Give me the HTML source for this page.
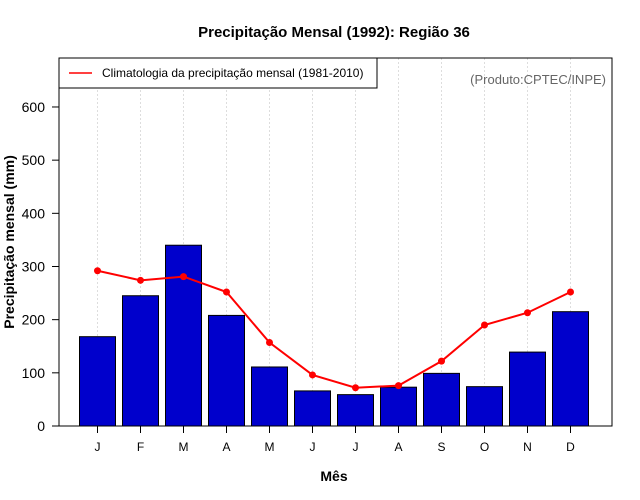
<!DOCTYPE html>
<html><head><meta charset="utf-8"><style>body{margin:0;background:#fff}svg{display:block;font-family:"Liberation Sans",sans-serif}</style></head>
<body>
<svg id="c" width="640" height="500">
<text x="334" y="37" text-anchor="middle" font-size="15" font-weight="bold">Precipitação Mensal (1992): Região 36</text>
<g id="grid"></g><g id="bars"></g><g id="line"></g><g id="axes"></g>
<rect x="59" y="58" width="553" height="368" fill="none" stroke="#000"/>
<g>
<rect x="59" y="58" width="318" height="30" fill="#fff" stroke="#000"/>
<line x1="69" y1="73" x2="92" y2="73" stroke="red" stroke-width="1.5"/>
<text x="102" y="77" font-size="12">Climatologia da precipitação mensal (1981-2010)</text>
</g>
<text x="606" y="84" text-anchor="end" font-size="13" fill="#666">(Produto:CPTEC/INPE)</text>
<text x="334" y="481" text-anchor="middle" font-size="14" font-weight="bold">Mês</text>
<text transform="translate(14,242) rotate(-90)" text-anchor="middle" font-size="14" font-weight="bold">Precipitação mensal (mm)</text>
</svg>
<script>
const months=["J","F","M","A","M","J","J","A","S","O","N","D"];
const observed=[168,245,340,208,111,66,59,73,99,74,139,215];
const climatology=[292,274,281,252,157,96,72,76,122,190,213,252];
const yTicks=[0,100,200,300,400,500,600];
const NS="http://www.w3.org/2000/svg";
const x=i=>97.5+43*i, y=v=>426-v*0.5317;
function mk(t,a,p){const e=document.createElementNS(NS,t);for(const k in a)e.setAttribute(k,a[k]);p.appendChild(e);return e;}
const g=document.getElementById('grid'),b=document.getElementById('bars'),l=document.getElementById('line'),ax=document.getElementById('axes');
months.forEach((m,i)=>{
 const gl=mk('line',{x1:x(i),x2:x(i),y1:58,y2:426,stroke:'#ddd','stroke-dasharray':'2,2'},g);
 
 
 const r=mk('rect',{x:x(i)-18,y:y(observed[i]),width:36,height:426-y(observed[i]),fill:'#0000cc',stroke:'#000','stroke-width':1},b);
 
 
 const t=mk('line',{x1:x(i),x2:x(i),y1:426,y2:433,stroke:'#000'},ax);
 
 
 const tx=mk('text',{x:x(i),y:451,'text-anchor':'middle','font-size':12},ax);tx.textContent=m;
 
 
});
const pl=mk('polyline',{points:climatology.map((v,i)=>x(i)+','+y(v)).join(' '),fill:'none',stroke:'red','stroke-width':2},l);


climatology.forEach((v,i)=>{const c=mk('circle',{cx:x(i),cy:y(v),r:3.5,fill:'red'},l);
 
 });
yTicks.forEach(v=>{
 const t=mk('line',{x1:52,x2:59,y1:y(v),y2:y(v),stroke:'#000'},ax);
 
 
 const tx=mk('text',{x:45,y:y(v)+5,'text-anchor':'end','font-size':14},ax);tx.textContent=v;
 
 
});
</script>
</body></html>
